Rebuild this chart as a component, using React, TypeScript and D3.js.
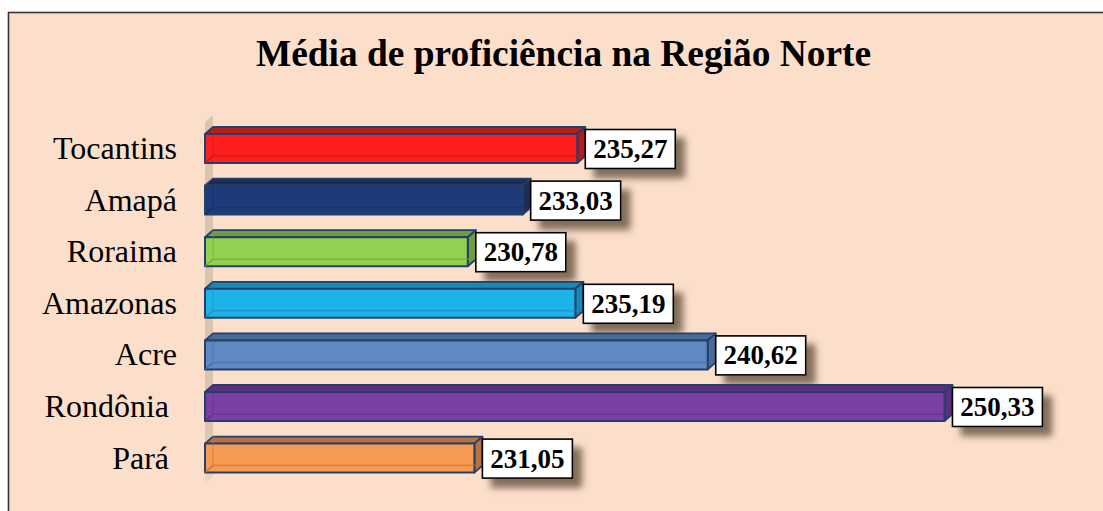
import React from "react";
import * as d3 from "d3";

const categories = ["Tocantins", "Amapá", "Roraima", "Amazonas", "Acre", "Rondônia ", "Pará "];
const values = [235.27, 233.03, 230.78, 235.19, 240.62, 250.33, 231.05];
const valueLabels = ["235,27", "233,03", "230,78", "235,19", "240,62", "250,33", "231,05"];
const frontColors = ["#FF1E1E", "#1F3A78", "#92D050", "#1DB3E8", "#5F89C2", "#7B3FA5", "#F79A52"];
const topColors = ["#B51C1C", "#1C2C55", "#6E9E3E", "#1A88B5", "#4B6A98", "#5B2E80", "#B9713E"];
const title = "Média de proficiência na Região Norte";

const W = 1103;
const H = 511;
const FONT = "'Liberation Serif', 'Times New Roman', serif";

export default function App() {
  const x = d3.scaleLinear().domain([220, 260]).range([205, 1180.2]);
  const y = d3.scalePoint<string>().domain(categories).range([148.5, 458.1]);
  const barH = 29;
  const dx = 8;
  const dy = -7;
  const edge = "#22406A";
  const x0 = x(220);

  return (
    <svg width={W} height={H} style={{ position: "absolute", left: 0, top: 0 }}>
      <defs>
        <filter id="shadow" x="-30%" y="-30%" width="170%" height="190%">
          <feDropShadow dx="9" dy="9" stdDeviation="3.5" floodColor="#5a4638" floodOpacity="0.75" />
        </filter>
        <linearGradient id="wall" x1="0" y1="0" x2="0" y2="1">
          <stop offset="0" stopColor="#D7C2AE" stopOpacity="0.9" />
          <stop offset="0.85" stopColor="#D7C2AE" stopOpacity="0.9" />
          <stop offset="1" stopColor="#D7C2AE" stopOpacity="0.3" />
        </linearGradient>
      </defs>
      <rect x={0} y={0} width={W} height={H} fill="#ffffff" />
      <rect x={8.5} y={12.5} width={W + 10} height={H + 10} fill="#FCDFCA" stroke="#3a3330" strokeWidth={1.6} />
      <text x={563.5} y={66} textAnchor="middle" fontFamily={FONT} fontWeight="bold" fontSize={37.4} fill="#000">
        {title}
      </text>
      <polygon
        points={`${x0},${122} ${x0 + dx},${122 + dy} ${x0 + dx},${484 + dy} ${x0},${484}`}
        fill="url(#wall)"
      />
      {categories.map((c, i) => {
        const cy = y(c) as number;
        const yt = cy - barH / 2;
        const yb = cy + barH / 2;
        const xe = x(values[i]);
        const front = `${x0},${yt} ${xe},${yt} ${xe},${yb} ${x0},${yb}`;
        const top = `${x0},${yt} ${x0 + dx},${yt + dy} ${xe + dx},${yt + dy} ${xe},${yt}`;
        const side = `${xe},${yt} ${xe + dx},${yt + dy} ${xe + dx},${yb + dy} ${xe},${yb}`;
        return (
          <g key={c}>
            <text
              x={177}
              y={cy + 10.5}
              textAnchor="end"
              fontFamily={FONT}
              fontSize={32}
              fill="#000"
              style={{ whiteSpace: "pre" }}
            >
              {c}
            </text>
            <polygon points={top} fill={topColors[i]} stroke={edge} strokeWidth={1.8} strokeLinejoin="round" />
            <polygon points={side} fill={topColors[i]} stroke={edge} strokeWidth={1.8} strokeLinejoin="round" />
            <polygon points={front} fill={frontColors[i]} stroke={edge} strokeWidth={2} strokeLinejoin="round" />
            <line x1={x0} y1={yb} x2={x0 + dx} y2={yb + dy} stroke={topColors[i]} strokeWidth={1.5} opacity={0.8} />
            <line x1={x0 + dx} y1={yb + dy} x2={xe + dx} y2={yb + dy} stroke={topColors[i]} strokeWidth={1.5} opacity={0.6} />
            <line x1={x0 + dx} y1={yt + dy} x2={x0 + dx} y2={yb + dy} stroke={topColors[i]} strokeWidth={1.2} opacity={0.5} />
            <g filter="url(#shadow)">
              <rect x={xe + 8} y={cy - 19} width={90} height={39} fill="#fff" stroke="#000" strokeWidth={1.6} />
            </g>
            <text
              x={xe + 8 + 45}
              y={cy + 9.5}
              textAnchor="middle"
              fontFamily={FONT}
              fontWeight="bold"
              fontSize={27}
              fill="#000"
            >
              {valueLabels[i]}
            </text>
          </g>
        );
      })}
    </svg>
  );
}
